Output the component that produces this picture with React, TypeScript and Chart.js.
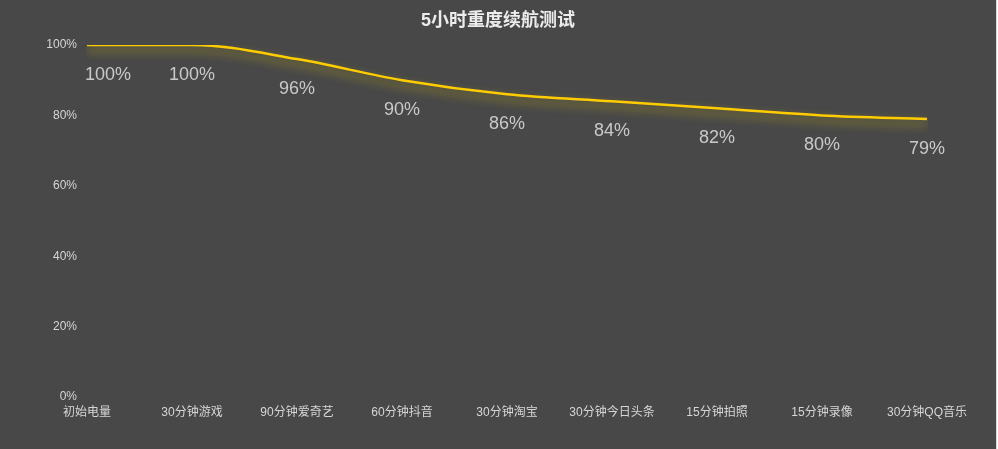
import React, { useEffect, useRef } from "react";
import Chart, { ChartConfiguration, Plugin } from "chart.js/auto";

const categories = [
  "初始电量",
  "30分钟游戏",
  "90分钟爱奇艺",
  "60分钟抖音",
  "30分钟淘宝",
  "30分钟今日头条",
  "15分钟拍照",
  "15分钟录像",
  "30分钟QQ音乐",
];
const battery = [100, 100, 96, 90, 86, 84, 82, 80, 79];
const yTicks = [0, 20, 40, 60, 80, 100];
const titleText = "5小时重度续航测试";

const FONT = '"Liberation Sans", "Noto Sans CJK SC", sans-serif';

// title centred on the whole canvas, not the padded box
const titlePlugin: Plugin<"line"> = {
  id: "centerTitle",
  afterDraw(chart) {
    const ctx = chart.ctx;
    ctx.save();
    ctx.font = `bold 18px ${FONT}`;
    ctx.fillStyle = "#ececec";
    ctx.textAlign = "center";
    ctx.textBaseline = "middle";
    ctx.fillText(titleText, chart.width / 2, 21);
    ctx.restore();
  },
};

// soft glow under the yellow line
const glowPlugin: Plugin<"line"> = {
  id: "glow",
  beforeDatasetDraw(chart) {
    const ctx = chart.ctx;
    ctx.save();
    ctx.shadowColor = "rgba(235, 205, 0, 0.6)";
    ctx.shadowBlur = 10;
    ctx.shadowOffsetY = 5;
  },
  afterDatasetDraw(chart) {
    chart.ctx.restore();
  },
};

// value labels under each point
const valueLabels: Plugin<"line"> = {
  id: "valueLabels",
  afterDatasetsDraw(chart) {
    const ctx = chart.ctx;
    const meta = chart.getDatasetMeta(0);
    const area = chart.chartArea;
    ctx.save();
    ctx.font = `18px ${FONT}`;
    ctx.fillStyle = "#c9c9c9";
    ctx.textBaseline = "middle";
    ctx.textAlign = "left";
    meta.data.forEach((pt, i) => {
      const txt = `${battery[i]}%`;
      const w = ctx.measureText(txt).width;
      const x = Math.max(pt.x - w / 2, area.left - 2);
      ctx.fillText(txt, x, pt.y + 30);
    });
    ctx.restore();
  },
};

function BatteryChart() {
  const canvasRef = useRef<HTMLCanvasElement | null>(null);

  useEffect(() => {
    const canvas = canvasRef.current;
    if (!canvas) return;
    const config: ChartConfiguration<"line"> = {
      type: "line",
      data: {
        labels: categories,
        datasets: [
          {
            data: battery,
            borderColor: "#ffcc00",
            borderWidth: 2.5,
            pointRadius: 0,
            cubicInterpolationMode: "monotone",
            fill: false,
          },
        ],
      },
      options: {
        animation: false,
        responsive: true,
        maintainAspectRatio: false,
        layout: { padding: { left: 0, right: 69, top: 45, bottom: 0 } },
        plugins: {
          legend: { display: false },
          tooltip: { enabled: false },
          title: { display: false },
        },
        scales: {
          x: {
            grid: { display: false, drawTicks: false },
            border: { display: false },
            ticks: {
              color: "#d6d6d6",
              font: { family: FONT, size: 12 },
              maxRotation: 0,
              autoSkip: false,
              padding: 8,
            },
            afterFit(scale) {
              scale.height = 52;
            },
          },
          y: {
            min: 0,
            max: 100,
            grid: { display: false, drawTicks: false },
            border: { display: false },
            afterBuildTicks(scale) {
              scale.ticks = yTicks.map((v) => ({ value: v }));
            },
            ticks: {
              color: "#d6d6d6",
              font: { family: FONT, size: 12 },
              padding: 10,
              callback: (v) => `${v}%`,
            },
            afterFit(scale) {
              scale.width = 87;
            },
          },
        },
      },
      plugins: [glowPlugin, valueLabels, titlePlugin],
    };
    const chart = new Chart(canvas, config);
    return () => {
      chart.destroy();
    };
  }, []);

  return (
    <div
      style={{
        position: "fixed",
        left: 0,
        top: 0,
        width: 996,
        height: 449,
        background: "#484848",
        borderRight: "1px solid #d8d8d8",
      }}
    >
      <canvas ref={canvasRef} />
    </div>
  );
}

export default function App() {
  return <BatteryChart />;
}
